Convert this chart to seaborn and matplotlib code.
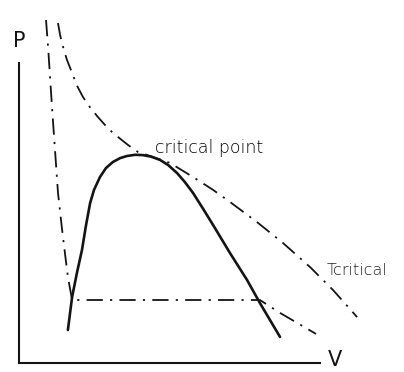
import matplotlib
matplotlib.use("Agg")
import matplotlib.pyplot as plt
import seaborn as sns
import pandas as pd

# Coexistence (saturation) dome
dome_v = [1.63, 1.77, 1.93, 2.10, 2.23, 2.37, 2.50, 2.70, 2.90, 3.13, 3.37,
          3.60, 3.87, 4.13, 4.40, 4.70, 4.97, 5.27, 5.53, 5.80, 6.13, 6.47,
          7.03, 7.60, 8.03, 8.70]
dome_p = [1.10, 2.20, 3.00, 3.77, 4.57, 5.33, 5.77, 6.20, 6.50, 6.70, 6.83,
          6.90, 6.94, 6.93, 6.88, 6.77, 6.60, 6.33, 6.03, 5.67, 5.15, 4.60,
          3.67, 2.77, 2.00, 0.87]

# Critical isotherm
crit_v = [1.30, 1.37, 1.47, 1.60, 1.77, 1.93, 2.13, 2.37, 2.63, 2.87, 3.13,
          3.63, 3.97, 4.37, 5.03, 5.80, 6.47, 7.03, 7.93, 8.80, 9.70, 10.47,
          11.27]
crit_p = [11.33, 10.93, 10.53, 10.10, 9.67, 9.25, 8.87, 8.52, 8.20, 7.93,
          7.67, 7.27, 7.03, 6.90, 6.67, 6.20, 5.77, 5.37, 4.70, 4.00, 3.20,
          2.43, 1.53]

# Subcritical isotherm with its flat two-phase segment
sub_v = [0.90, 0.97, 1.10, 1.20, 1.30, 1.43, 1.53, 1.63, 1.77, 8.03, 8.70,
         9.90]
sub_p = [11.43, 10.53, 8.53, 7.10, 5.67, 4.50, 3.67, 2.87, 2.10, 2.10, 1.67,
         0.97]

axis_labels = ["P", "V"]
point_label = "critical point"
isotherm_label = "Tcritical"

ink = "#141414"

sns.set_theme(style="white")
plt.rcParams["font.family"] = ["DejaVu Sans"]

fig = plt.figure(figsize=(4.04, 3.72), dpi=100)
ax = fig.add_axes([0, 0, 1, 1])

dome = pd.DataFrame({"V": dome_v, "P": dome_p})
crit = pd.DataFrame({"V": crit_v, "P": crit_p})
sub = pd.DataFrame({"V": sub_v, "P": sub_p})

dashdot = (0, (9, 4, 1.2, 4))
sns.lineplot(data=dome, x="V", y="P", sort=False, estimator=None, ax=ax,
             color=ink, lw=1.9, solid_capstyle="round",
             solid_joinstyle="round")
sns.lineplot(data=crit, x="V", y="P", sort=False, estimator=None, ax=ax,
             color=ink, lw=1.3, linestyle=dashdot)
sns.lineplot(data=sub, x="V", y="P", sort=False, estimator=None, ax=ax,
             color=ink, lw=1.3, linestyle=dashdot)

ax.set_xlim(-19 / 30, 385 / 30)
ax.set_ylim(-9 / 30, 363 / 30)

# L-shaped axes drawn as spines through the origin
for side in ["top", "right"]:
    ax.spines[side].set_visible(False)
for side in ["left", "bottom"]:
    ax.spines[side].set_position(("data", 0))
    ax.spines[side].set_color(ink)
    ax.spines[side].set_linewidth(1.5)
ax.spines["left"].set_bounds(0, 10)
ax.spines["bottom"].set_bounds(0, 10.03)
ax.set_xticks([])
ax.set_yticks([])
ax.set_xlabel("")
ax.set_ylabel("")
ax.patch.set_alpha(0)

ax.text(0.0, 10.73, axis_labels[0], ha="center", va="center",
        fontsize=15, color=ink)
ax.text(10.53, 0.1, axis_labels[1], ha="center", va="center",
        fontsize=15, color=ink)
ax.text(4.53, 7.0, point_label, ha="left", va="baseline",
        fontsize=12.5, color="#000000", fontweight="light")
ax.text(10.27, 2.93, isotherm_label, ha="left", va="baseline",
        fontsize=11.5, color="#222222", fontweight="light")

fig.savefig("out.png", dpi=100, facecolor="white")
